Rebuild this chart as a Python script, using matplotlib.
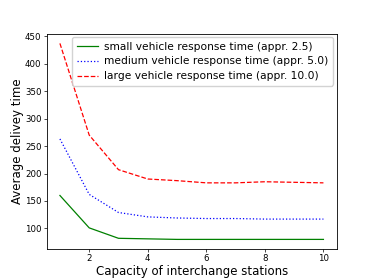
import matplotlib
matplotlib.use('Agg')
import matplotlib.pyplot as plt

capacity = [1, 2, 3, 4, 5, 6, 7, 8, 9, 10]
small_time = [160, 101, 82, 81, 80, 80, 80, 80, 80, 80]
medium_time = [263, 162, 129, 121, 119, 118, 118, 117, 117, 117]
large_time = [437, 270, 207, 190, 187, 183, 183, 185, 184, 183]

fig, ax = plt.subplots(figsize=(3.74, 2.8), dpi=100)
fig.subplots_adjust(left=0.125, right=0.9, bottom=0.11, top=0.88)

ax.plot(capacity, small_time, color='green', linestyle='-', lw=0.9,
        label='small vehicle response time (appr. 2.5)')
ax.plot(capacity, medium_time, color='blue', linestyle=':', lw=0.9,
        label='medium vehicle response time (appr. 5.0)')
ax.plot(capacity, large_time, color='red', linestyle='--', lw=0.9,
        label='large vehicle response time (appr. 10.0)')

ax.set_xticks([2, 4, 6, 8, 10])
ax.tick_params(labelsize=6.2, width=0.5, length=2, pad=1.8)
for s in ax.spines.values():
    s.set_linewidth(0.6)
ax.set_xlabel('Capacity of interchange stations', fontsize=8.5, labelpad=1)
ax.set_ylabel('Average delivey time', fontsize=8.5, labelpad=1)
ax.legend(loc='upper right', fontsize=7.7, framealpha=0.85, handlelength=2.0,
          borderpad=0.4, labelspacing=0.45, handletextpad=0.6,
          borderaxespad=0.35)

fig.savefig('out.png', dpi=100)
